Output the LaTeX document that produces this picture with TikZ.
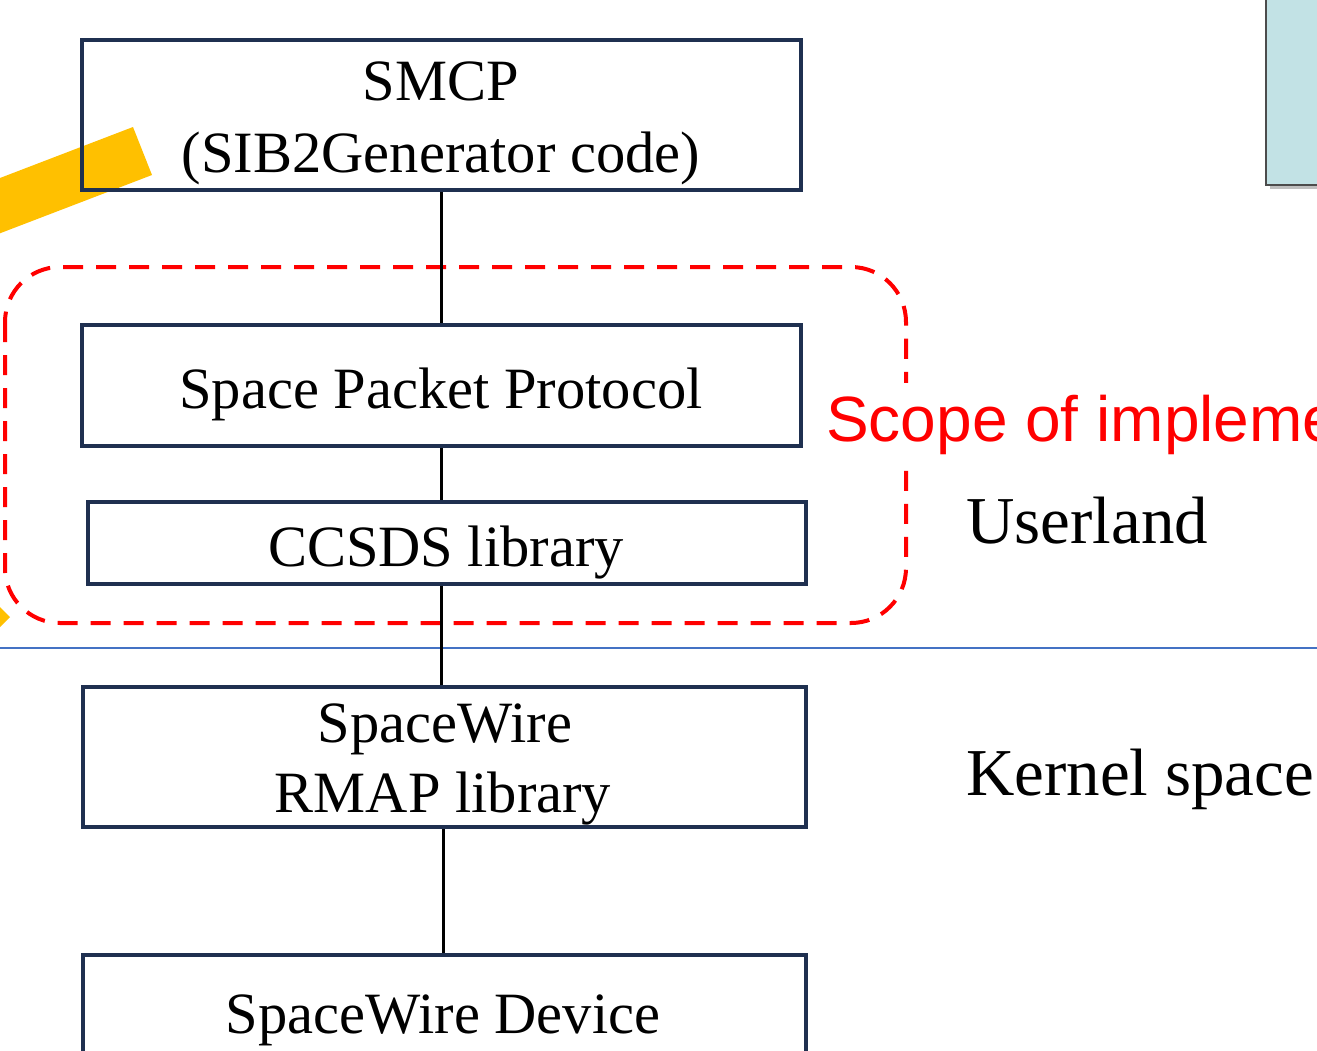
\documentclass[tikz,border=0pt]{standalone}
\usepackage{fontspec}
\setmainfont{Liberation Serif}
\newfontfamily\arialfont{Liberation Sans}
\definecolor{navy}{RGB}{31,48,80}
\definecolor{amber}{RGB}{255,192,0}
\definecolor{paleteal}{RGB}{194,226,229}
\definecolor{sepblue}{RGB}{68,114,196}
\tikzset{
  layer/.style={draw=navy, line width=4pt, fill=none, inner sep=0pt},
  caption/.style={inner sep=0pt, anchor=base, font=\fontsize{58.5}{70}\selectfont},
  sidenote/.style={inner sep=0pt, anchor=base west, font=\fontsize{67}{78}\selectfont},
  link/.style={draw=black, line width=3pt},
  scopeline/.style={draw=red, line width=4pt, dash pattern=on 20pt off 13pt, rounded corners=55pt},
}
\begin{document}
\begin{tikzpicture}[x=1pt, y=-1pt]
\useasboundingbox (0,0) rectangle (1317,1050);
\clip (0,0) rectangle (1317,1050);

% panel at the top right
\fill[black!25] (1270,-20) rectangle (1340,189);
\draw[fill=paleteal, draw=black!70, line width=2pt] (1266,-20) rectangle (1340,185);

% yellow pointer bar and tip
\fill[amber] (133,127) -- (152,175) -- (-114,277) -- (-133,229) -- cycle;
\fill[amber] (-10,597) -- (10,617) -- (-10,637) -- cycle;

% user / kernel separator
\draw[sepblue, line width=2pt] (0,648) -- (1317,648);

% implementation scope
\draw[scopeline] (5,267) rectangle (906,623);

% layer boxes
\node[layer, minimum width=719, minimum height=150] (smcp)   at (441.5,115)  {};
\node[layer, minimum width=719, minimum height=121] (spp)    at (441.5,385.5) {};
\node[layer, minimum width=718, minimum height=82]  (ccsds)  at (447,543)    {};
\node[layer, minimum width=723, minimum height=140] (rmap)   at (444.5,757)  {};
\node[layer, minimum width=723, minimum height=150] (device) at (444.5,1030) {};

% connectors between the layers
\draw[link] (smcp.south -| 441,0) -- (spp.north -| 441,0);
\draw[link] (spp.south -| 441,0) -- (ccsds.north -| 441,0);
\draw[link] (ccsds.south -| 441,0) -- (rmap.north -| 441,0);
\draw[link] (rmap.south -| 443,0) -- (device.north -| 443,0);

% box captions
\node[caption] (smcpA)   at (441,100)  {SMCP};
\node[caption] (smcpB)   at (441,172)  {(SIB2Generator code)};
\node[caption] (sppT)    at (441,408)  {Space Packet Protocol};
\node[caption] (ccsdsT)  at (446,566)  {CCSDS library};
\node[caption] (rmapA)   at (445,742)  {SpaceWire};
\node[caption] (rmapB)   at (443,812)  {RMAP library};
\node[caption] (deviceT) at (443,1033) {SpaceWire Device};

% side annotations
\node[inner xsep=4pt, inner ysep=12pt, anchor=base west, fill=white, text=red, font=\arialfont\fontsize{64}{76}\selectfont] (scopeT) at (822,441) {Scope of implementation};
\node[sidenote] (userT)   at (966,543) {Userland};
\node[sidenote] (kernelT) at (966,795) {Kernel space};
\end{tikzpicture}
\end{document}
